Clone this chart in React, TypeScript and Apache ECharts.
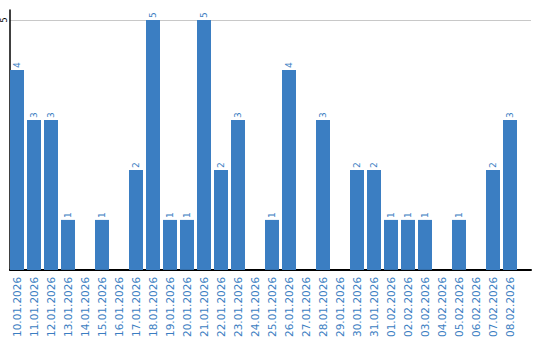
import React, { useEffect, useRef } from "react";
import * as echarts from "echarts";

const categories = [
  "10.01.2026", "11.01.2026", "12.01.2026", "13.01.2026", "14.01.2026", "15.01.2026",
  "16.01.2026", "17.01.2026", "18.01.2026", "19.01.2026", "20.01.2026", "21.01.2026",
  "22.01.2026", "23.01.2026", "24.01.2026", "25.01.2026", "26.01.2026", "27.01.2026",
  "28.01.2026", "29.01.2026", "30.01.2026", "31.01.2026", "01.02.2026", "02.02.2026",
  "03.02.2026", "04.02.2026", "05.02.2026", "06.02.2026", "07.02.2026", "08.02.2026",
];
const values = [4, 3, 3, 1, 0, 1, 0, 2, 5, 1, 1, 5, 2, 3, 0, 1, 4, 0, 3, 0, 2, 2, 1, 1, 1, 0, 1, 0, 2, 3];

const BLUE = "#3b7ec2";
const FONT = "DejaVu Sans";

export default function App() {
  const ref = useRef<HTMLDivElement>(null);
  useEffect(() => {
    if (!ref.current) return;
    const chart = echarts.init(ref.current, null, { renderer: "svg" });
    chart.setOption({
      animation: false,
      grid: [
        { left: 8.5, top: 10, width: 510, height: 260 },
        { left: 10, top: 10, width: 521, height: 260 },
      ],
      xAxis: [
        {
          type: "category",
          gridIndex: 0,
          data: categories,
          axisLine: { show: false },
          axisTick: { show: false },
          axisLabel: {
            rotate: 90,
            interval: 0,
            margin: 7,
            color: BLUE,
            fontFamily: FONT,
            fontSize: 10.5,
          },
        },
        {
          type: "value",
          gridIndex: 1,
          min: 0,
          max: 1,
          axisLine: { show: true, lineStyle: { color: "#000", width: 2 } },
          axisTick: { show: false },
          axisLabel: { show: false },
          splitLine: { show: false },
        },
      ],
      yAxis: [
        {
          type: "value",
          gridIndex: 0,
          min: 0,
          max: 5.2,
          show: false,
        },
        {
          type: "value",
          gridIndex: 1,
          min: 0,
          max: 5.2,
          interval: 5,
          axisLine: { show: true, lineStyle: { color: "#000", width: 1.5 } },
          axisTick: { show: false },
          axisLabel: {
            rotate: 90,
            margin: 2,
            color: "#000",
            fontFamily: FONT,
            fontSize: 8,
            showMinLabel: false,
            showMaxLabel: false,
            formatter: (v: number) => (v === 5 ? "5" : ""),
          },
          splitLine: {
            show: true,
            showMinLine: false,
            showMaxLine: false,
            lineStyle: { color: "#c8c8c8", width: 1 },
          },
        },
      ],
      series: [
        {
          type: "bar",
          xAxisIndex: 0,
          yAxisIndex: 0,
          data: values,
          barWidth: 14,
          itemStyle: { color: BLUE },
          label: {
            show: true,
            position: "top",
            rotate: 90,
            align: "left",
            verticalAlign: "middle",
            distance: 2,
            color: BLUE,
            fontFamily: FONT,
            fontSize: 9,
            formatter: (p: any) => (p.value ? String(p.value) : ""),
          },
        },
      ],
    });
    return () => chart.dispose();
  }, []);
  return <div ref={ref} style={{ width: 540, height: 340, position: "absolute", left: 0, top: 0 }} />;
}
